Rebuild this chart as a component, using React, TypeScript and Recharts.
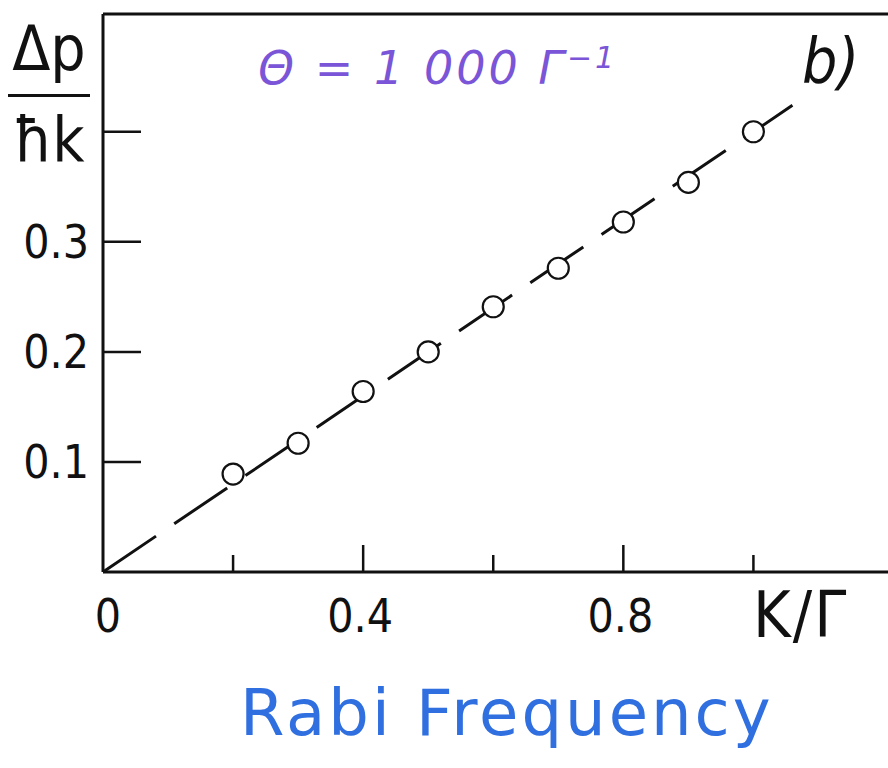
import { ScatterChart, Scatter, XAxis, YAxis, ReferenceLine } from 'recharts';

// measured points: Rabi frequency K/Γ vs momentum spread Δp/ħk
const rabiX = [0.2, 0.3, 0.4, 0.5, 0.6, 0.7, 0.8, 0.9, 1.0];
const dpY = [0.089, 0.117, 0.164, 0.2, 0.241, 0.276, 0.318, 0.354, 0.4];

// dashed guide line through origin
const fitX = [0, 1.06];
const fitY = [0, 0.424];

const xTicks = [0, 0.2, 0.4, 0.6, 0.8, 1.0];
const xLabeled = [0, 0.4, 0.8];
const yTicks = [0.1, 0.2, 0.3, 0.4];
const yLabeled = [0.1, 0.2, 0.3];

const X_MAX = 1.21;
const Y_MAX = 0.507;

const INK = '#111';
const FONT = "'DejaVu Sans Condensed', 'Liberation Sans Narrow', 'DejaVu Sans', sans-serif";

const points = rabiX.map((x, i) => ({ x, y: dpY[i] }));
const fit = fitX.map((x, i) => ({ x, y: fitY[i] }));

const XTick = ({ x, y, payload }: any) => {
  const v = payload.value;
  const len = v === 0 ? 0 : xLabeled.includes(v) ? 27 : 17;
  return (
    <g>
      {len > 0 && <line x1={x} y1={y} x2={x} y2={y - len} stroke={INK} strokeWidth={2.5} />}
      {xLabeled.includes(v) && (
        <text x={x + (v === 0 ? 5 : -3)} y={y + 60} textAnchor="middle" fontSize={46} fontFamily={FONT} fill={INK}>
          {v === 0 ? '0' : v.toFixed(1)}
        </text>
      )}
    </g>
  );
};

const YTick = ({ x, y, payload }: any) => (
  <g>
    <line x1={x} y1={y} x2={x + 38} y2={y} stroke={INK} strokeWidth={2.5} />
    {yLabeled.includes(payload.value) && (
      <text x={x - 14} y={y + 16} textAnchor="end" fontSize={46} fontFamily={FONT} fill={INK}>
        {payload.value.toFixed(1)}
      </text>
    )}
  </g>
);

const Ring = ({ cx, cy }: any) => (
  <circle cx={cx} cy={cy} r={10.5} fill="#fff" stroke={INK} strokeWidth={2.2} />
);

export default function App() {
  return (
    <div style={{ position: 'absolute', left: 0, top: 0, width: 888, height: 768, overflow: 'hidden', background: '#fff' }}>
      <ScatterChart width={890} height={768} margin={{ top: 14, right: 0, bottom: 0, left: 0 }}>
        <XAxis
          dataKey="x"
          type="number"
          domain={[0, X_MAX]}
          ticks={xTicks}
          height={196}
          tickSize={0}
          tickMargin={0}
          tickLine={false}
          axisLine={{ stroke: INK, strokeWidth: 3 }}
          tick={<XTick />}
          interval={0}
        />
        <YAxis
          dataKey="y"
          type="number"
          domain={[0, Y_MAX]}
          ticks={yTicks}
          width={103}
          tickSize={0}
          tickMargin={0}
          tickLine={false}
          axisLine={{ stroke: INK, strokeWidth: 3 }}
          tick={<YTick />}
          interval={0}
        />
        {/* top frame of the plot box */}
        <ReferenceLine y={Y_MAX} stroke={INK} strokeWidth={3} />
        <Scatter
          data={fit}
          line={{ stroke: INK, strokeWidth: 3, strokeDasharray: '64 22' }}
          shape={() => null}
          isAnimationActive={false}
        />
        <Scatter data={points} shape={<Ring />} isAnimationActive={false} />
      </ScatterChart>

      {/* y axis quantity: Δp / ħk */}
      <div style={{ position: 'absolute', left: 8, top: 14, width: 82, textAlign: 'center', fontFamily: FONT, color: INK, fontSize: 62, lineHeight: '70px' }}>
        <div>Δp</div>
        <div style={{ borderTop: `3px solid ${INK}`, margin: '10px 0 8px' }} />
        <div>ħk</div>
      </div>

      <div style={{ position: 'absolute', left: 753, top: 578, fontFamily: FONT, color: INK, fontSize: 64, letterSpacing: 2 }}>K/Γ</div>

      <div style={{ position: 'absolute', left: 258, top: 40, fontFamily: "'DejaVu Sans', sans-serif", fontStyle: 'italic', color: '#7a55d8', fontSize: 46, letterSpacing: 3 }}>
        Θ = 1 000 Γ<sup style={{ fontSize: 30 }}>−1</sup>
      </div>

      <div style={{ position: 'absolute', left: 802, top: 24, fontFamily: FONT, fontStyle: 'italic', color: INK, fontSize: 62 }}>b)</div>

      <div style={{ position: 'absolute', left: 240, top: 676, fontFamily: "'DejaVu Sans', sans-serif", color: '#2f6fe0', fontSize: 64, letterSpacing: 3 }}>
        Rabi Frequency
      </div>
    </div>
  );
}
